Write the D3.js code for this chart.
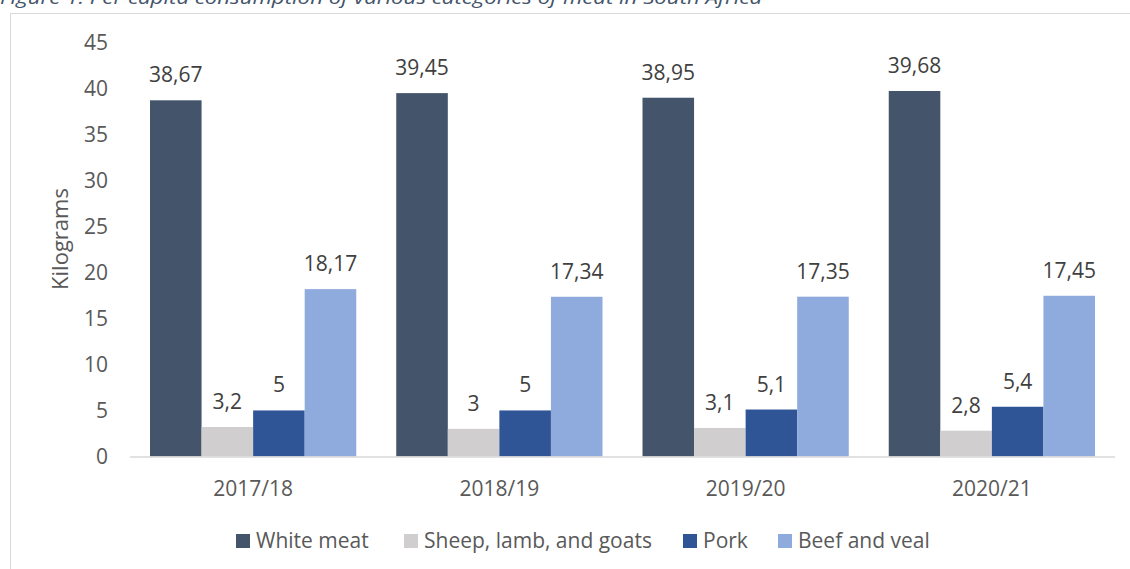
<!DOCTYPE html>
<html>
<head>
<meta charset="utf-8">
<script src="https://cdn.jsdelivr.net/npm/d3@7"></script>
<style>
  html, body { margin: 0; padding: 0; background: #ffffff; }
  svg { display: block; }
  text { font-family: "Open Sans", "Liberation Sans", sans-serif; }
</style>
</head>
<body>
<svg id="chart" width="1130" height="569"></svg>
<script>
const titleText = "Figure 1: Per capita consumption of various categories of meat in South Africa";
const categories = ["2017/18", "2018/19", "2019/20", "2020/21"];
const seriesNames = ["White meat", "Sheep, lamb, and goats", "Pork", "Beef and veal"];
const whiteMeat = [38.67, 39.45, 38.95, 39.68];
const sheepLambGoats = [3.2, 3.0, 3.1, 2.8];
const pork = [5.0, 5.0, 5.1, 5.4];
const beefVeal = [18.17, 17.34, 17.35, 17.45];
const yTicks = [0, 5, 10, 15, 20, 25, 30, 35, 40, 45];
const yAxisTitle = "Kilograms";

const colors = ["#44546A", "#D0CECE", "#2F5597", "#8FAADC"];
const seriesValues = [whiteMeat, sheepLambGoats, pork, beefVeal];

const svg = d3.select("#chart");

// title (cut off at the top, as in the reference)
svg.append("text")
  .attr("x", 0).attr("y", 4)
  .attr("font-size", 18).attr("font-style", "italic")
  .attr("fill", "#44546A")
  .attr("textLength", 762).attr("lengthAdjust", "spacingAndGlyphs")
  .text(titleText);

// chart frame
svg.append("rect")
  .attr("x", 10.5).attr("y", 13.5)
  .attr("width", 1140).attr("height", 600)
  .attr("fill", "none").attr("stroke", "#D9D9D9").attr("stroke-width", 1);

const left = 130, right = 1115;
const y = d3.scaleLinear().domain([0, 45]).range([456.5, 42]);
const p = 40 / 246.25;
const x0 = d3.scaleBand().domain(categories).range([left, right]).paddingInner(p).paddingOuter(p / 2);
const x1 = d3.scaleBand().domain(seriesNames).range([0, x0.bandwidth()]).padding(0);

// y axis tick labels
const yAxis = d3.axisLeft(y).tickValues(yTicks).tickSize(0).tickPadding(0).tickFormat(d3.format("d"));
const yG = svg.append("g").attr("transform", "translate(108,0)").call(yAxis);
yG.select(".domain").remove();
yG.selectAll("text").attr("font-size", 21).attr("fill", "#595959").attr("font-family", "'Open Sans', sans-serif").attr("dy", "0.35em");

// axis title
svg.append("text")
  .attr("transform", "translate(68,239) rotate(-90)")
  .attr("text-anchor", "middle")
  .attr("font-size", 22).attr("fill", "#595959")
  .text(yAxisTitle);

// bars
const groups = svg.append("g").selectAll("g")
  .data(categories)
  .join("g")
  .attr("transform", d => `translate(${x0(d)},0)`);

groups.selectAll("rect")
  .data((c, ci) => seriesNames.map((s, si) => ({ s, si, v: seriesValues[si][ci] })))
  .join("rect")
  .attr("x", d => x1(d.s))
  .attr("width", x1.bandwidth())
  .attr("y", d => y(d.v))
  .attr("height", d => y(0) - y(d.v))
  .attr("fill", d => colors[d.si]);

const fmt = v => String(v).replace(".", ",");
groups.selectAll("text.lbl")
  .data((c, ci) => seriesNames.map((s, si) => ({ s, si, v: seriesValues[si][ci] })))
  .join("text")
  .attr("class", "lbl")
  .attr("x", d => x1(d.s) + x1.bandwidth() / 2)
  .attr("y", d => y(d.v) - 18)
  .attr("text-anchor", "middle")
  .attr("font-size", 21).attr("fill", "#404040")
  .text(d => fmt(d.v));

// x axis
const xAxis = d3.axisBottom(x0).tickSize(0).tickPadding(0);
const xG = svg.append("g").attr("transform", `translate(0,${y(0)})`).call(xAxis);
xG.select(".domain").attr("stroke", "#D9D9D9").attr("stroke-width", 1.5)
  .attr("d", `M${left},0.5H${right}`);
xG.selectAll("text").attr("font-size", 21).attr("fill", "#595959")
  .attr("font-family", "'Open Sans', sans-serif").attr("dy", null).attr("y", 39);

// legend
const legendX = [236, 404, 683, 778];
const leg = svg.append("g").selectAll("g").data(seriesNames).join("g")
  .attr("transform", (d, i) => `translate(${legendX[i]},534)`);
leg.append("rect").attr("width", 14).attr("height", 14).attr("fill", (d, i) => colors[i]);
leg.append("text").attr("x", 20).attr("y", 14)
  .attr("font-size", 21).attr("fill", "#595959").text(d => d);
</script>
</body>
</html>
